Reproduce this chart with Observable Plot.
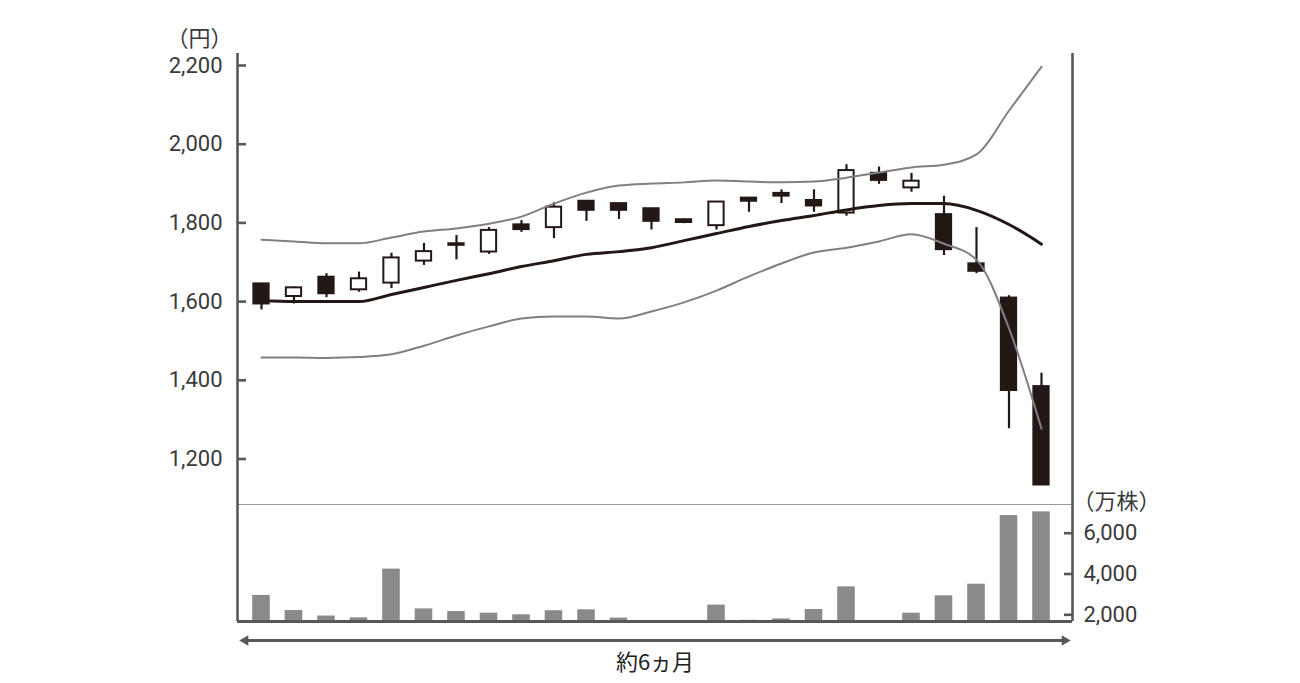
<!DOCTYPE html>
<html><head><meta charset="utf-8">
<script src="https://cdn.jsdelivr.net/npm/d3@7"></script>
<script src="https://cdn.jsdelivr.net/npm/@observablehq/plot@0.6"></script>
<style>
html,body{margin:0;padding:0;background:#fff;}
#wrap{position:relative;width:1300px;height:683px;overflow:hidden;background:#fff;}
#wrap svg{position:absolute;left:0;overflow:visible;background:transparent;}
</style></head><body><div id="wrap"></div>
<script>
// ---- data ----
const days   = d3.range(1, 26);
const openP  = [1645,1613,1662,1630,1647,1703,1743,1726,1795,1788,1855,1849,1836,1808,1793,1863,1875,1857,1825,1926,1889,1821,1696,1609,1384];
const closeP = [1594,1635,1620,1658,1711,1727,1747,1781,1783,1840,1832,1832,1804,1801,1853,1855,1868,1843,1933,1908,1906,1732,1677,1374,1134];
const highP  = [1645,1637,1671,1675,1723,1748,1768,1788,1806,1851,1855,1849,1836,1810,1853,1863,1884,1884,1948,1942,1926,1868,1788,1615,1418];
const lowP   = [1579,1594,1610,1624,1633,1692,1706,1720,1776,1760,1804,1809,1782,1798,1782,1827,1849,1827,1817,1898,1878,1717,1671,1277,1134];
const maLine = [1602,1600,1600,1600,1618,1636,1654,1671,1689,1704,1720,1727,1737,1755,1773,1791,1806,1819,1833,1844,1849,1849,1832,1796,1746];
const upperBand = [1757,1753,1748,1748,1763,1778,1786,1798,1816,1849,1877,1895,1900,1903,1908,1905,1903,1905,1915,1928,1941,1948,1974,2085,2197];
const lowerBand = [1458,1458,1457,1459,1466,1488,1514,1537,1557,1562,1562,1557,1575,1598,1628,1664,1697,1725,1737,1753,1771,1747,1706,1532,1277];
const volume = [2950,2210,1940,1850,4240,2290,2160,2080,2000,2200,2245,1840,1690,1690,2475,1730,1800,2260,3370,1690,2080,2930,3500,6865,7045];
const priceTicks = [1200,1400,1600,1800,2000,2200];
const volTicks = [2000,4000,6000];
const priceUnit = "（円）";
const volUnit = "（万株）";
const periodLabel = "約6ヵ月";

// ---- styling ----
const dark = "#231815", axisC = "#595757", bandC = "#808080", volC = "#8a8a8a", divC = "#9a9a9a", textC = "#3a3a3a";
const numFont = "Roboto, 'Noto Sans', sans-serif";
const cjkFont = "'Noto Sans CJK JP', sans-serif";
const xDomain = [0.262, 25.954];
const priceDomain = [1084.4, 2230.5];
const volDomain = [1672, 7407];
const fmt = d3.format(",");

const candles = days.map((i, k) => ({
  i, open: openP[k], close: closeP[k], high: highP[k], low: lowP[k],
  ma: maLine[k], up: upperBand[k], lo: lowerBand[k], vol: volume[k]
}));

const wrap = document.getElementById("wrap");

const price = Plot.plot({
  width: 1300, height: 505,
  marginLeft: 237, marginRight: 228, marginTop: 53, marginBottom: 1,
  x: {domain: xDomain, axis: null, label: null},
  y: {domain: priceDomain, axis: null, label: null},
  style: {background: "transparent", overflow: "visible", fontFamily: numFont, color: textC},
  marks: [
    Plot.ruleY([priceDomain[0]], {stroke: divC, strokeWidth: 1.2}),
    Plot.ruleX(candles, {x: "i", y1: "low", y2: "high", stroke: dark, strokeWidth: 2.2}),
    Plot.rect(candles, {
      x1: d => d.i - 0.235, x2: d => d.i + 0.235,
      y1: "open", y2: "close",
      fill: d => d.close >= d.open ? "white" : dark,
      stroke: dark, strokeWidth: 2
    }),
    Plot.line(candles, {x: "i", y: "up", stroke: bandC, strokeWidth: 2, curve: "monotone-x"}),
    Plot.line(candles, {x: "i", y: "lo", stroke: bandC, strokeWidth: 2, curve: "monotone-x"}),
    Plot.line(candles, {x: "i", y: "ma", stroke: dark, strokeWidth: 3, curve: "monotone-x"}),
    Plot.ruleX([xDomain[0]], {stroke: axisC, strokeWidth: 2.6}),
    Plot.ruleX([xDomain[1]], {stroke: axisC, strokeWidth: 2.6}),
    Plot.axisY({ticks: priceTicks, anchor: "left", label: null, tickSize: 9, dx: 9, strokeWidth: 2.6, stroke: axisC, tickFormat: () => ""}),
    Plot.axisY({ticks: priceTicks, anchor: "left", label: null, tickSize: 0, tickPadding: 15, tickFormat: fmt, fontSize: 22, fill: textC}),
    Plot.text([priceUnit], {frameAnchor: "top-left", dx: -38, dy: -15, textAnchor: "middle", lineAnchor: "middle", fontSize: 22, fontFamily: cjkFont, fill: textC})
  ]
});
price.style.top = "0px";
wrap.appendChild(price);

const vol = Plot.plot({
  width: 1300, height: 203,
  marginLeft: 237, marginRight: 228, marginTop: 24, marginBottom: 62,
  x: {domain: xDomain, axis: null, label: null},
  y: {domain: volDomain, axis: null, label: null},
  style: {background: "transparent", overflow: "visible", fontFamily: numFont, color: textC},
  marks: [
    Plot.rect(candles, {x1: d => d.i - 0.27, x2: d => d.i + 0.27, y1: volDomain[0], y2: "vol", fill: volC}),
    Plot.ruleX([xDomain[0]], {stroke: axisC, strokeWidth: 2.6}),
    Plot.ruleX([xDomain[1]], {stroke: axisC, strokeWidth: 2.6}),
    Plot.ruleY([volDomain[0]], {stroke: axisC, strokeWidth: 3}),
    Plot.axisY({ticks: volTicks, anchor: "right", label: null, tickSize: 9, dx: -9, strokeWidth: 2.6, stroke: axisC, tickFormat: () => ""}),
    Plot.axisY({ticks: volTicks, anchor: "right", label: null, tickSize: 0, tickPadding: 11, tickFormat: fmt, fontSize: 22, fill: textC}),
    Plot.text([volUnit], {frameAnchor: "top-right", dx: 44, dy: -3, textAnchor: "middle", lineAnchor: "middle", fontSize: 22, fontFamily: cjkFont, fill: textC}),
    // period arrow
    Plot.ruleY([volDomain[0]], {dy: 19, insetLeft: 8, insetRight: 8, stroke: axisC, strokeWidth: 3}),
    Plot.dot([xDomain[0]], {x: d => d, y: () => volDomain[0], dy: 19, dx: 7.8, symbol: "triangle2", r: 5, rotate: -90, fill: axisC, stroke: "none"}),
    Plot.dot([xDomain[1]], {x: d => d, y: () => volDomain[0], dy: 19, dx: -7.8, symbol: "triangle2", r: 5, rotate: 90, fill: axisC, stroke: "none"}),
    Plot.text([periodLabel], {frameAnchor: "bottom", dy: 41, textAnchor: "middle", lineAnchor: "middle", fontSize: 22, fontFamily: cjkFont, fill: "#222"})
  ]
});
vol.style.top = "480px";
wrap.appendChild(vol);
</script>
</body></html>
